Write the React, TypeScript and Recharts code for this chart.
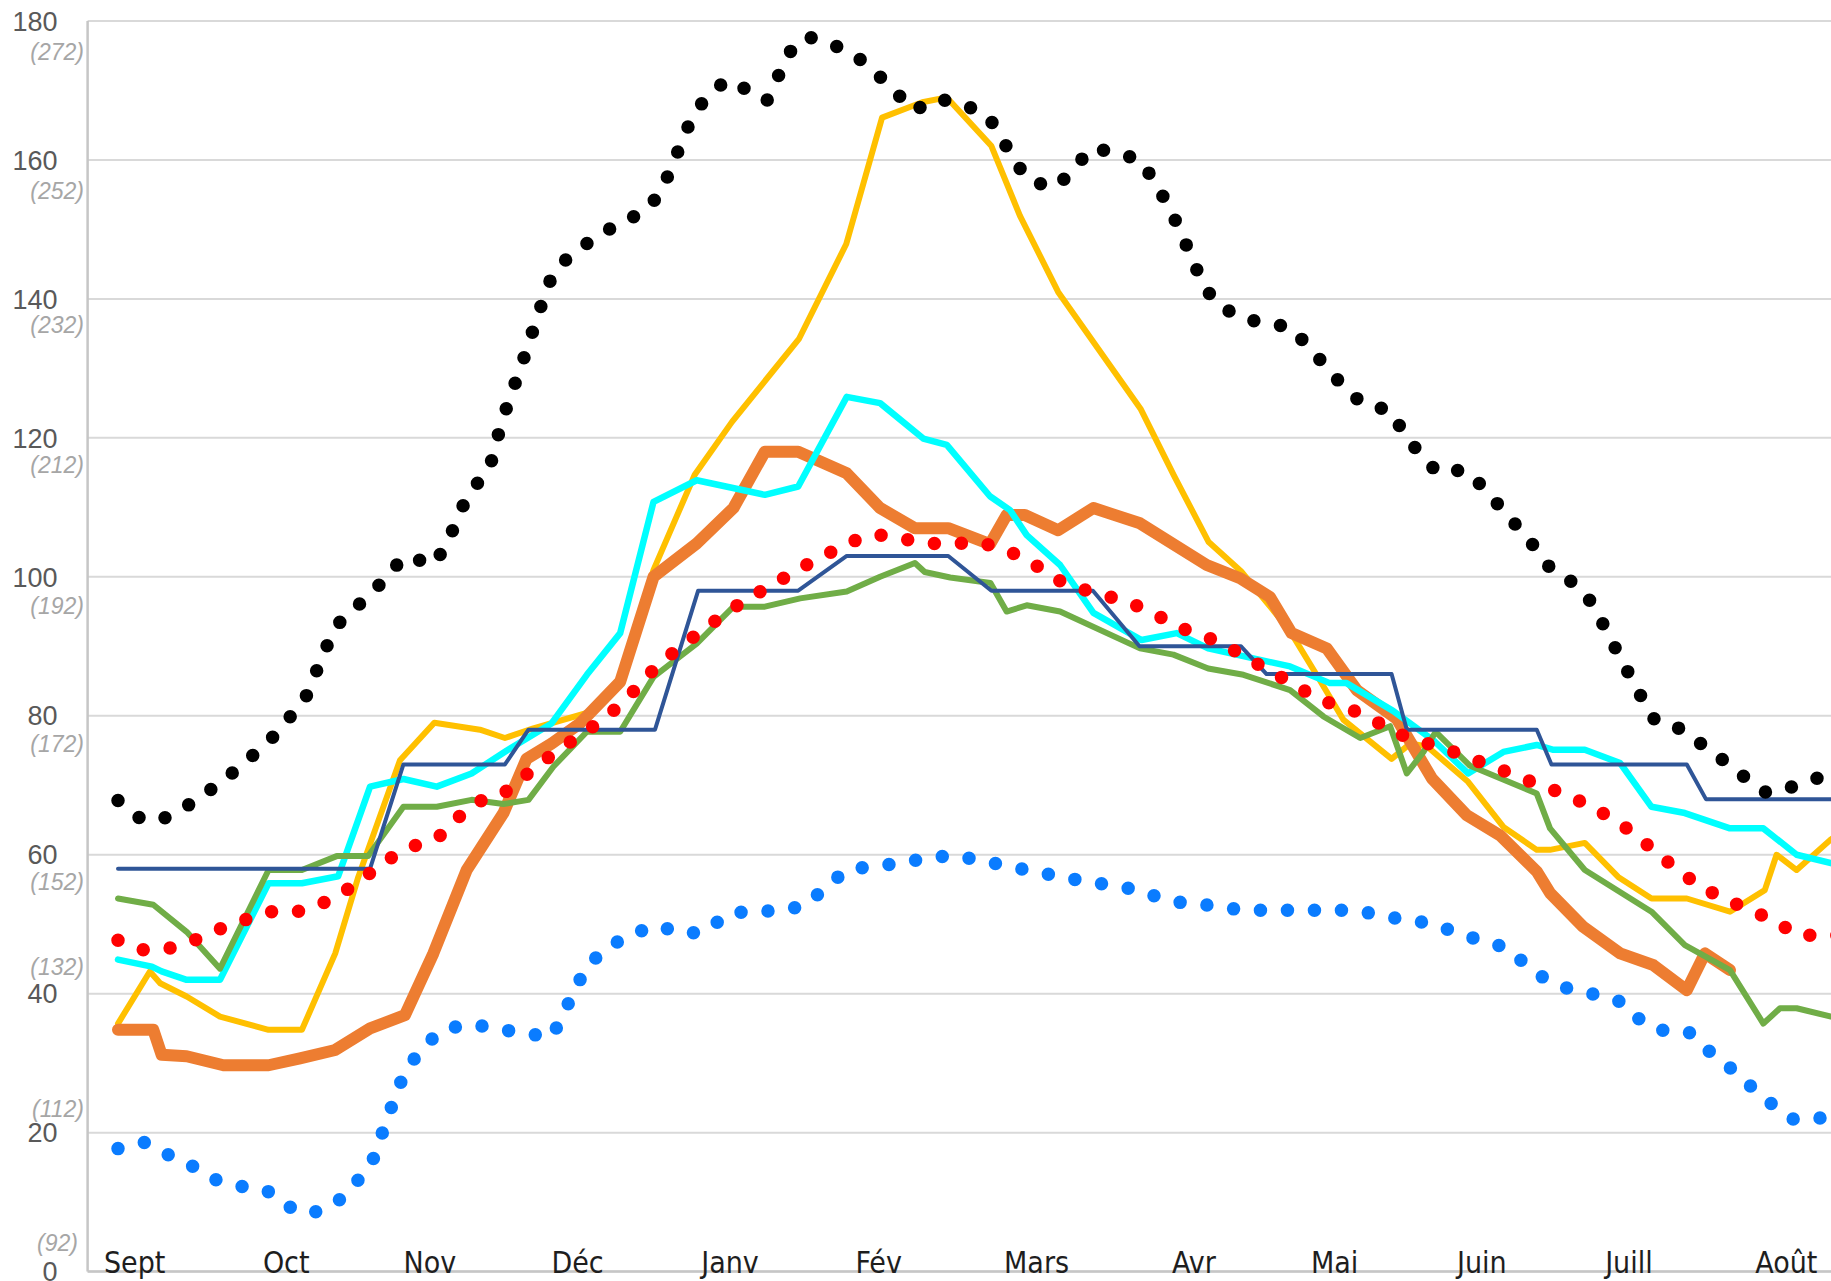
import { LineChart, Line, XAxis, YAxis, CartesianGrid } from 'recharts';

// x = days since the first point (early Sept), y = level
const MONTHS = ['Sept', 'Oct', 'Nov', 'Déc', 'Janv', 'Fév', 'Mars', 'Avr', 'Mai', 'Juin', 'Juill', 'Août'];
const MONTH_TICKS = [3.4, 34.3, 63.6, 93.7, 124.8, 155.1, 187.3, 219.4, 248.1, 278.1, 308.1, 340.2];
const Y_TICKS = [0, 20, 40, 60, 80, 100, 120, 140, 160, 180];

type Pt = [number, number];

const maxSeries: Pt[] = [
  [0, 67.8], [4.4, 65.3], [8.4, 64.9], [13.2, 66.6], [17.8, 68.8], [22.2, 71.1], [26.3, 73.6], [30.7, 76.2],
  [34, 79], [37.9, 82], [41.9, 88.9], [44.3, 92.8], [47.9, 95.3], [52.1, 97.8], [55.7, 101], [59, 103],
  [64.3, 101.7], [66.9, 104.5], [71.2, 111.6], [75.8, 115.7], [78.2, 122.2], [80, 125.9], [81.8, 129.5],
  [83.6, 133.2], [85.2, 136.8], [87, 140.5], [88.9, 144.1], [92.9, 146.6], [97.5, 148.9], [102.2, 150.9],
  [107.2, 152.5], [110.6, 155.2], [112.7, 158.7], [114.8, 162.3], [116.9, 165.9], [119.9, 169], [124.1, 171.5],
  [128.3, 170.1], [132.3, 168.5], [134.6, 172], [137.1, 175.6], [140.3, 177.8], [145.5, 176.7], [150.4, 175],
  [154.6, 172.5], [158.5, 169.8], [162.3, 167.1], [167.1, 168.8], [172.1, 168.1], [177.3, 166.4], [180.1, 163.3],
  [182.8, 159.8], [186, 156.9], [191.3, 156.1], [194.9, 158.7], [198.4, 161.7], [203.5, 161.1], [208.7, 159.9],
  [211.5, 156.6], [214.4, 153.2], [216.6, 149.7], [218.9, 146.1], [220.9, 142.6], [223.7, 139.5], [228.5, 137.4],
  [233.7, 136.5], [239, 136], [242.8, 133.1], [246.4, 130.2], [250.1, 127.2], [254, 124.8], [259.4, 124],
  [262.1, 120.8], [265.4, 117.7], [269.1, 115], [274.5, 115.4], [278.4, 112.9], [281.9, 110], [285.5, 107.1],
  [289.1, 104.1], [292.3, 101], [296.9, 99.1], [300.6, 96.2], [303.1, 92.8], [305.7, 89.2], [308.2, 85.9],
  [310.8, 82.5], [313.5, 79.2], [318.8, 78.1], [323.1, 75.8], [327.5, 73.5], [332, 71], [336.2, 68.9],
  [341.5, 69.8], [346.8, 71.1], [354.5, 72],
];

const meanSeries: Pt[] = [
  [0, 47.7], [5.2, 46.3], [10.3, 46.5], [15.6, 47.7], [20.7, 49.3], [25.8, 50.6], [31, 51.8], [36.5, 51.8],
  [41.7, 53], [46.4, 54.8], [50.9, 57.1], [55.3, 59.4], [60.1, 61.2], [65.3, 62.5], [69.1, 65.2], [73.3, 67.6],
  [78.6, 68.8], [82.7, 71.2], [87, 73.6], [91.5, 75.9], [96, 78], [100.5, 80.4], [104.5, 83], [108.1, 85.9],
  [112.2, 88.5], [116.5, 90.9], [120.9, 93.2], [125.4, 95.5], [130, 97.5], [134.8, 99.4], [139.5, 101.4],
  [144.4, 103.2], [149.3, 105], [154.5, 106.1], [159.8, 105.5], [165.2, 104.8], [170.7, 104.8], [176.1, 104.9],
  [181.3, 103.8], [186.3, 102.1], [190.7, 99.8], [195.7, 98.4], [200.9, 97.4], [206.2, 96.3], [211.3, 94.7],
  [216, 92.8], [221.2, 91.6], [226.1, 90], [231, 88], [235.6, 86.2], [240.5, 84.2], [245.1, 82.2], [250.4, 81.2],
  [255.4, 79.7], [260, 77.7], [265.1, 76.4], [270.6, 75.3], [275.5, 73.9], [280.8, 72.6], [285.9, 71.1],
  [290.8, 69.8], [296, 68.5], [300.8, 66.7], [305.6, 64.9], [310, 62.5], [314.2, 60], [318.4, 57.6],
  [322.9, 55.3], [327.8, 53.6], [332.8, 52], [337.9, 50.5], [342.4, 48.4], [347.9, 48.4], [354.5, 48.4],
];

const minSeries: Pt[] = [
  [0, 17.7], [5.5, 18.6], [10, 16.9], [14.9, 15.3], [19.6, 13.3], [24.9, 12.3], [30.3, 11.7], [34.6, 9.4],
  [39.2, 8.3], [44.3, 9.7], [48.1, 12.5], [51.6, 15.3], [53.4, 19], [55.3, 22.7], [57, 26.3], [59.4, 29.7],
  [62.8, 32.8], [66.9, 35], [72.3, 35.6], [77.7, 34.9], [83.1, 34.3], [88.4, 33.7], [91, 37.3], [93.2, 40.7],
  [95.9, 44.2], [100, 46.7], [104.7, 48.6], [110, 49.8], [115.3, 48.6], [120, 49], [124.3, 51.5], [129.6, 51.9],
  [134.9, 51.9], [140.1, 52.7], [144.2, 55.2], [148.3, 57.7], [153.8, 58.4], [159.2, 58.7], [164.7, 59.5],
  [170, 59.9], [175.4, 59.3], [180.9, 58.4], [186.2, 57.7], [191.6, 56.9], [197.1, 56.2], [202.4, 55.6],
  [207.6, 55], [212.9, 53.7], [218.2, 52.9], [223.7, 52.7], [229.1, 52], [250.9, 52], [256.4, 51.5],
  [261.7, 50.7], [267.1, 50.2], [272.6, 48.9], [277.7, 47.7], [282.8, 46.7], [287.1, 44.2], [291.4, 41.9],
  [296.5, 40.5], [301.9, 39.8], [307, 38.7], [310.8, 35.9], [315.5, 34.6], [320.4, 34.4], [324.5, 31.7],
  [328.8, 29.3], [332.9, 26.7], [337.1, 24.2], [341.7, 21.9], [346.6, 22.1], [354.5, 22],
];

const orangeSeries: Pt[] = [
  [0, 34.8], [7.2, 34.8], [8.9, 31.2], [14, 31], [21.5, 29.7], [30.7, 29.7], [37.1, 30.7], [44.3, 31.9],
  [51.4, 35], [58.5, 36.9], [64.3, 45.8], [71.1, 57.8], [78.6, 66], [83.3, 73.8], [88.4, 76], [94.2, 78.9],
  [102.4, 84.9], [109.2, 100], [118, 104.8], [125.5, 109.9], [131.9, 118], [138.7, 118], [148.6, 114.9],
  [155.4, 109.9], [162.5, 107], [169.3, 107], [177.8, 104.7], [181.2, 108.9], [184.9, 108.9], [191.7, 106.7],
  [198.9, 109.9], [208.4, 107.7], [222, 101.7], [228.8, 99.8], [234.9, 97.1], [239.3, 91.9], [246.5, 89.7],
  [252.6, 83.7], [260.7, 79.6], [267.9, 71], [275, 65.7], [281.8, 62.8], [289.3, 57.6], [292, 54.5],
  [298.8, 49.6], [306.3, 45.8], [313.1, 44.1], [319.9, 40.5], [323.6, 45.8], [328.7, 43.4],
];

const yellowSeries: Pt[] = [
  [0, 35.7], [6.5, 43.2], [8.6, 41.5], [14, 39.6], [20.8, 36.7], [30.7, 34.8], [37.5, 34.8], [44.3, 45.8],
  [49, 56.8], [57.5, 73.6], [64.5, 79], [73.8, 78], [78.9, 76.8], [84.7, 78.2], [95.6, 80.4], [102.4, 84.5],
  [109.2, 101], [117.6, 114.7], [125.2, 122.3], [138.9, 134.3], [148.5, 147.9], [155.8, 166.1], [164, 168.3],
  [169, 169], [178.1, 162], [183.9, 152], [191.7, 141], [208.5, 124.2], [215.3, 114.6], [222.4, 105],
  [229, 100.8], [238.8, 92.4], [244.4, 85.9], [249.9, 79.4], [259.7, 73.8], [263.5, 76], [266.9, 75.6],
  [275.3, 70.5], [282.5, 64], [289.3, 60.7], [292, 60.7], [299.1, 61.7], [305.9, 56.8], [312.7, 53.7],
  [319.9, 53.7], [328.7, 51.8], [335.8, 54.9], [338.2, 60], [342.3, 57.8], [349.1, 62.1], [354.5, 65],
];

const cyanSeries: Pt[] = [
  [0, 44.9], [6.9, 43.9], [8.9, 43.2], [14, 42], [20.8, 42], [30.7, 55.9], [37.5, 55.9], [44.9, 56.9],
  [51.4, 69.8], [58.2, 70.9], [65, 69.8], [72.1, 71.7], [79.3, 75], [88.4, 78.9], [95.6, 85.9], [102.4, 91.9],
  [109.2, 110.8], [118, 113.9], [131.9, 111.8], [138.7, 113], [148.6, 125.9], [155.4, 125], [164.2, 119.9],
  [169, 119], [177.8, 111.6], [181.9, 109.6], [185.3, 106], [192.1, 101.7], [198.9, 94.8], [208.7, 90.9],
  [215.9, 91.9], [222.3, 89.7], [239, 87.1], [247.1, 84.7], [250.5, 84.7], [260, 80.7], [268.5, 76.3],
  [275.3, 71.7], [282.5, 74.8], [289.3, 75.8], [292.7, 75.1], [299.1, 75.1], [306.3, 73.2], [312.7, 66.9],
  [319.5, 66], [328.7, 63.8], [335.5, 63.8], [342.3, 60], [349.3, 58.8], [354.5, 58],
];

const greenSeries: Pt[] = [
  [0, 53.7], [7.2, 52.8], [14, 48.9], [20.8, 43.6], [30.7, 57.8], [37.5, 57.8], [44.6, 59.8], [51, 59.8],
  [58.2, 66.9], [65, 66.9], [72.1, 67.9], [78.6, 67.3], [83.7, 67.9], [88.8, 72.7], [95.6, 77.7], [102.4, 77.7],
  [109.2, 85.6], [118, 90.4], [125.5, 95.7], [131.9, 95.7], [139.1, 96.9], [148.6, 97.9], [155.4, 100],
  [162.5, 102], [164.5, 100.7], [169.7, 99.9], [177.9, 99.1], [181.2, 95], [185.3, 95.9], [192.1, 95],
  [208.4, 89.7], [215.2, 88.8], [222.3, 86.8], [229.5, 85.9], [239, 83.7], [245.8, 79.9], [253.3, 76.8],
  [259.4, 78.5], [262.8, 71.7], [266.2, 74.8], [268.7, 77.7], [275.7, 72.8], [289.3, 68.8], [292, 63.8],
  [299.1, 57.8], [312.7, 51.8], [319.5, 47], [328.7, 43.4], [335.5, 35.7], [338.9, 37.9], [342.3, 37.9],
  [349.3, 36.7], [354.5, 36.3],
];

const navySeries: Pt[] = [
  [0, 58], [51.4, 58], [58.2, 73], [78.9, 73], [83.7, 78], [109.5, 78], [118.3, 98], [138.7, 98],
  [148.6, 103], [169.3, 103], [178.1, 98], [198.8, 98], [208.3, 90], [229, 90], [234.2, 86], [259.7, 86],
  [262.8, 78], [289.3, 78], [292.3, 73], [319.9, 73], [323.8, 68], [354.5, 68],
];

const toRows = (pts: Pt[]) => pts.map(([x, y]) => ({ x, y }));

const PAREN_DY: Record<number, number> = {
  180: 31, 160: 31, 140: 26, 120: 27, 100: 29, 80: 28, 60: 27, 40: -27, 20: -24, 0: -29,
};

function YTick(props: any) {
  const { x, y, payload } = props;
  const v = payload.value as number;
  return (
    <g>
      <text x={x - 30} y={y} dy="0.36em" textAnchor="end" fontSize={27} fill="#595959"
        fontFamily="'Liberation Sans', Arial, sans-serif">{v}</text>
      <text x={x - (v === 0 ? 9.6 : 3.6)} y={y + PAREN_DY[v]} dy="0.36em" textAnchor="end" fontSize={23}
        fontStyle="italic" fill="#a6a6a6" fontFamily="'Liberation Sans', Arial, sans-serif">({v + 92})</text>
    </g>
  );
}

function MonthTick(props: any) {
  const { x, y, index } = props;
  return (
    <text x={x} y={y + 1.5} textAnchor="middle" fontSize={30} fill="#1e1e1e"
      fontFamily="'DejaVu Sans Condensed', 'DejaVu Sans', sans-serif" style={{ fontStretch: 'condensed' }}>
      {MONTHS[index]}
    </text>
  );
}

const solid = [
  { data: yellowSeries, color: '#ffc000', width: 6 },
  { data: orangeSeries, color: '#ed7d31', width: 12 },
  { data: cyanSeries, color: '#00ffff', width: 6.5 },
  { data: greenSeries, color: '#70ad47', width: 6 },
  { data: navySeries, color: '#2f5597', width: 4 },
];

const dotted = [
  { data: minSeries, color: '#0a7cff' },
  { data: meanSeries, color: '#ff0000' },
  { data: maxSeries, color: '#000000' },
];

export default function App() {
  return (
    <div style={{ position: 'absolute', left: 0, top: 0, width: 1831, height: 1281, background: '#fff', overflow: 'hidden' }}>
      <LineChart width={1831} height={1281} margin={{ top: 21, right: 0, bottom: 0, left: 0 }}>
        <CartesianGrid vertical={false} stroke="#d9d9d9" strokeWidth={2} />
        <XAxis
          type="number" dataKey="x" domain={[-6.2, 349.3]} allowDataOverflow
          ticks={MONTH_TICKS} interval={0} tick={<MonthTick />}
          tickLine={false} tickSize={0} tickMargin={0} height={9.4}
          axisLine={{ stroke: '#c6c6c6', strokeWidth: 2.5 }}
        />
        <YAxis
          type="number" domain={[0, 180]} ticks={Y_TICKS} interval={0} width={87.6}
          tick={<YTick />} tickLine={false} tickSize={0} tickMargin={0}
          axisLine={{ stroke: '#c6c6c6', strokeWidth: 2.5 }}
        />
        {solid.map((s, i) => (
          <Line key={'s' + i} data={toRows(s.data)} dataKey="y" type="linear" stroke={s.color}
            strokeWidth={s.width} strokeLinejoin="round" strokeLinecap="round"
            dot={false} activeDot={false} isAnimationActive={false} />
        ))}
        {dotted.map((s, i) => (
          <Line key={'d' + i} data={toRows(s.data)} dataKey="y" type="linear" stroke={s.color}
            strokeWidth={13.5} strokeDasharray="0 27" strokeLinecap="round"
            dot={false} activeDot={false} isAnimationActive={false} />
        ))}
      </LineChart>
    </div>
  );
}
